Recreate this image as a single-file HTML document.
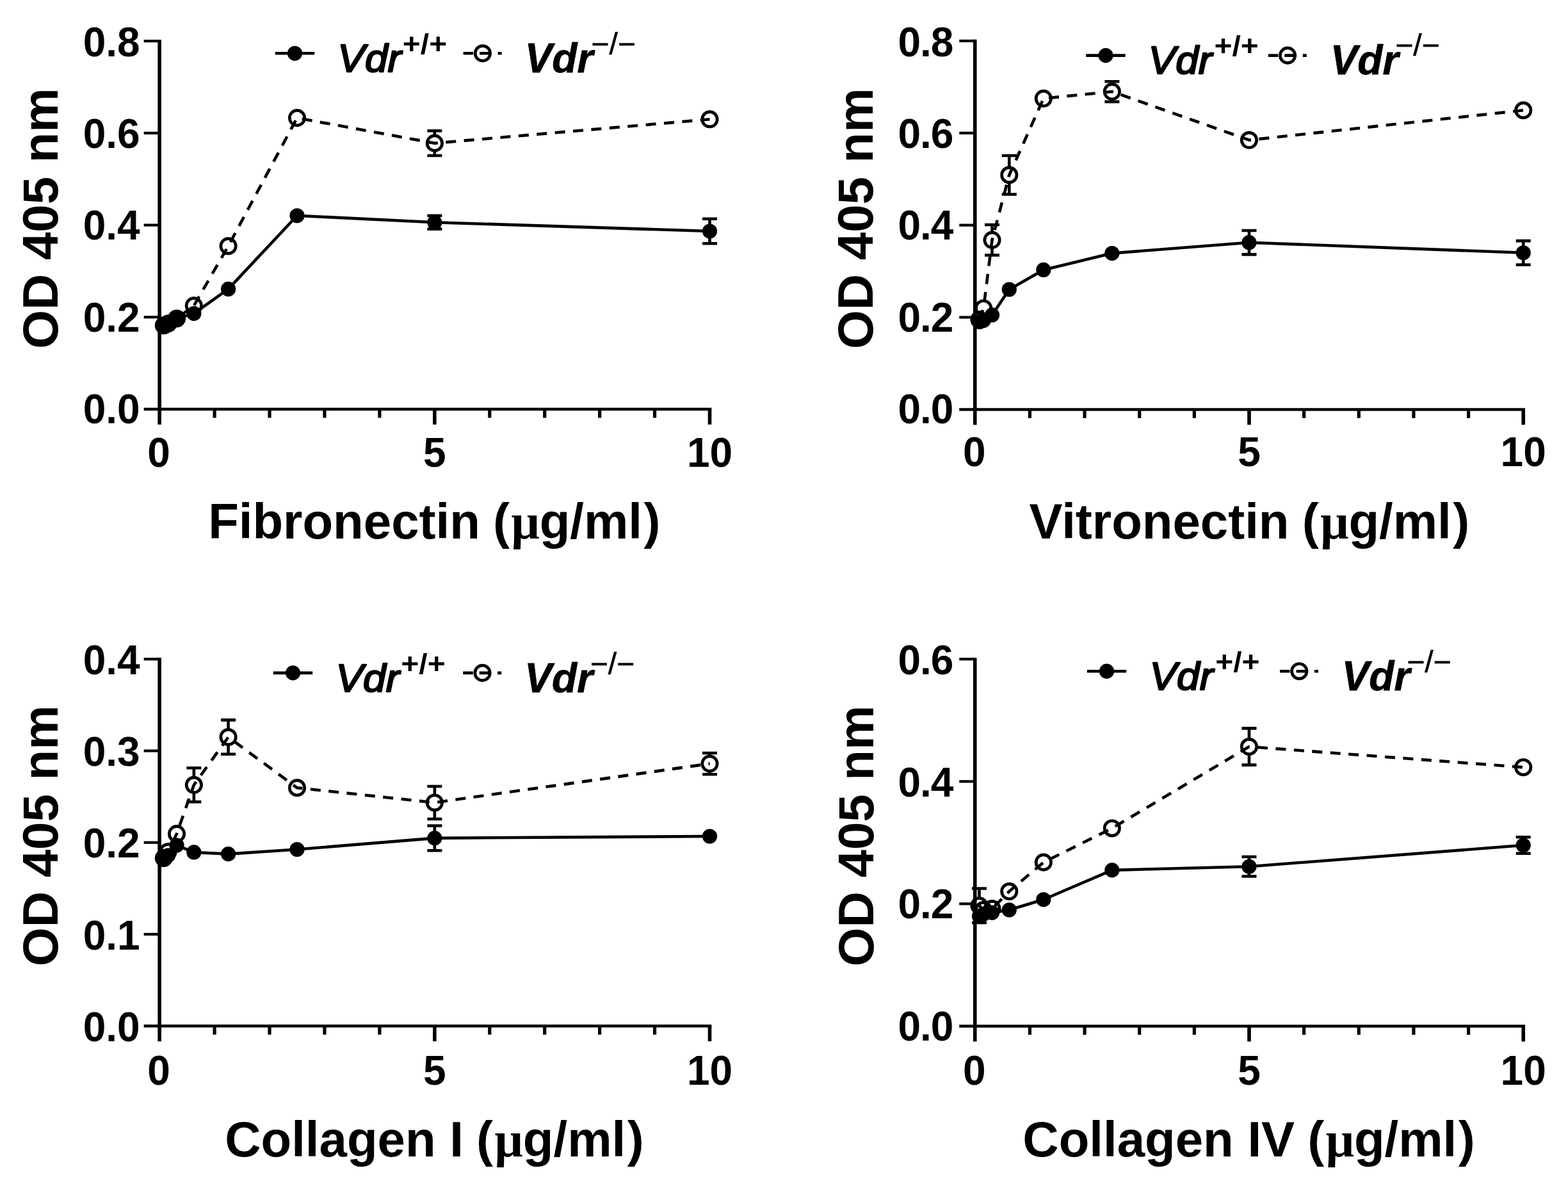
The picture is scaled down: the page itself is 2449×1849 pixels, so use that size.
<!DOCTYPE html>
<html lang="en">
<head>
<meta charset="utf-8">
<title>Cell adhesion to ECM proteins: Vdr+/+ vs Vdr-/-</title>
<style>
html,body{margin:0;padding:0;background:#fff;}
body{width:2449px;height:1849px;overflow:hidden;}
svg{display:block;}
text{font-family:"Liberation Sans",Arial,Helvetica,sans-serif;fill:#000;}
.tk text{font-size:64px;font-weight:bold;}
.tt{font-size:78px;font-weight:bold;}
.mu{font-family:"Liberation Serif","DejaVu Serif",serif;font-weight:bold;font-style:normal;}
.l1{font-size:64px;font-style:italic;font-weight:normal;stroke:#000;stroke-width:2.4px;stroke-linejoin:round;}
.l2{font-size:64px;font-style:italic;font-weight:bold;stroke:#000;stroke-width:0.8px;stroke-linejoin:round;}
.s1{font-size:48px;font-weight:bold;}
.s2{font-size:48px;font-weight:normal;stroke:#000;stroke-width:0.6px;}
</style>
</head>
<body>
<svg xmlns="http://www.w3.org/2000/svg" width="2449" height="1849" viewBox="0 0 2449 1849">
<rect x="0" y="0" width="2449" height="1849" fill="#fff"/>
<g class="p1">
<g stroke="#000" fill="none" stroke-linecap="butt">
<line x1="249.15" y1="62" x2="249.15" y2="663" stroke-width="5.6"/>
<line x1="224.65" y1="639" x2="1111.3" y2="639" stroke-width="4.5"/>
<line x1="224.65" y1="495.27" x2="249.15" y2="495.27" stroke-width="4.2"/>
<line x1="224.65" y1="351.55" x2="249.15" y2="351.55" stroke-width="4.2"/>
<line x1="224.65" y1="207.82" x2="249.15" y2="207.82" stroke-width="4.2"/>
<line x1="224.65" y1="64.1" x2="249.15" y2="64.1" stroke-width="4.2"/>
<line x1="335.09" y1="639" x2="335.09" y2="652.5" stroke-width="5.2"/>
<line x1="421.02" y1="639" x2="421.02" y2="652.5" stroke-width="5.2"/>
<line x1="506.96" y1="639" x2="506.96" y2="652.5" stroke-width="5.2"/>
<line x1="592.89" y1="639" x2="592.89" y2="652.5" stroke-width="5.2"/>
<line x1="678.83" y1="639" x2="678.83" y2="663" stroke-width="5.6"/>
<line x1="764.76" y1="639" x2="764.76" y2="652.5" stroke-width="5.2"/>
<line x1="850.7" y1="639" x2="850.7" y2="652.5" stroke-width="5.2"/>
<line x1="936.63" y1="639" x2="936.63" y2="652.5" stroke-width="5.2"/>
<line x1="1022.56" y1="639" x2="1022.56" y2="652.5" stroke-width="5.2"/>
<line x1="1108.5" y1="639" x2="1108.5" y2="663" stroke-width="5.6"/>
</g>
<g class="tk">
<text x="218.65" y="660.7" text-anchor="end">0.0</text>
<text x="218.65" y="517.51" text-anchor="end">0.2</text>
<text x="218.65" y="374.33" text-anchor="end">0.4</text>
<text x="218.65" y="231.14" text-anchor="end">0.6</text>
<text x="218.65" y="87.95" text-anchor="end">0.8</text>
<text x="248.15" y="728.7" text-anchor="middle">0</text>
<text x="678.83" y="728.7" text-anchor="middle">5</text>
<text x="1108.5" y="728.7" text-anchor="middle">10</text>
</g>
<text class="tt" x="678.33" y="840.8" text-anchor="middle">Fibronectin <tspan dx="-1.5">(</tspan><tspan class="mu" dx="2.5">μ</tspan><tspan dx="0">g/ml</tspan><tspan dx="2.5">)</tspan></text>
<text class="tt" transform="translate(90.45 341.05) rotate(-90)" text-anchor="middle">OD 405 nm</text>
<g class="lg">
<line x1="429.8" y1="83.3" x2="491.2" y2="83.3" stroke="#000" stroke-width="4.6"/>
<circle cx="460.5" cy="83.3" r="11.6" fill="#000"/>
<text class="l1" transform="translate(527.3 112.3) scale(1 0.955)">Vdr</text>
<text class="s1" transform="translate(628.85 84.4) scale(1 0.92)">+/+</text>
<line x1="723.6" y1="83.3" x2="784.2" y2="83.3" stroke="#000" stroke-width="4.6" stroke-dasharray="15.5 10 15.5 13 6 99"/>
<circle cx="753.9" cy="83.3" r="11.7" fill="none" stroke="#000" stroke-width="4.7"/>
<text class="l2" x="819.65" y="113.2">Vdr</text>
<text class="s2" x="923.35" y="85">−/−</text>
</g>
<path d="M255.86 508.21 L262.58 505.34 L276 497.43 L302.86 477.31 L356.57 384.25 L463.99 184.11 L678.83 223.63 L1108.5 186.27" fill="none" stroke="#000" stroke-width="4.6" stroke-dasharray="16 12.5" stroke-dashoffset="0"/>
<path d="M667.33 204.23 H690.33 M667.33 243.04 H690.33 M678.83 204.23 V210.58 M678.83 236.68 V243.04" fill="none" stroke="#000" stroke-width="4.6"/>
<circle cx="255.86" cy="508.21" r="11.7" fill="none" stroke="#000" stroke-width="4.7"/>
<circle cx="262.58" cy="505.34" r="11.7" fill="none" stroke="#000" stroke-width="4.7"/>
<circle cx="276" cy="497.43" r="11.7" fill="none" stroke="#000" stroke-width="4.7"/>
<circle cx="302.86" cy="477.31" r="11.7" fill="none" stroke="#000" stroke-width="4.7"/>
<circle cx="356.57" cy="384.25" r="11.7" fill="none" stroke="#000" stroke-width="4.7"/>
<circle cx="463.99" cy="184.11" r="11.7" fill="none" stroke="#000" stroke-width="4.7"/>
<circle cx="678.83" cy="223.63" r="11.7" fill="none" stroke="#000" stroke-width="4.7"/>
<circle cx="1108.5" cy="186.27" r="11.7" fill="none" stroke="#000" stroke-width="4.7"/>
<path d="M255.86 508.21 L262.58 505.34 L276 497.43 L302.86 489.53 L356.57 451.44 L463.99 336.75 L678.83 347.24 L1108.5 361.04" fill="none" stroke="#000" stroke-width="4.6" stroke-linejoin="round"/>
<path d="M667.33 336.82 H690.33 M667.33 357.66 H690.33" fill="none" stroke="#000" stroke-width="4.6"/>
<path d="M1097 341.78 H1120 M1097 380.3 H1120 M1108.5 341.78 V350.44 M1108.5 371.64 V380.3" fill="none" stroke="#000" stroke-width="4.6"/>
<circle cx="255.86" cy="508.21" r="11.6" fill="#000"/>
<circle cx="262.58" cy="505.34" r="11.6" fill="#000"/>
<circle cx="276" cy="497.43" r="11.6" fill="#000"/>
<circle cx="302.86" cy="489.53" r="11.6" fill="#000"/>
<circle cx="356.57" cy="451.44" r="11.6" fill="#000"/>
<circle cx="463.99" cy="336.75" r="11.6" fill="#000"/>
<circle cx="678.83" cy="347.24" r="11.6" fill="#000"/>
<circle cx="1108.5" cy="361.04" r="11.6" fill="#000"/>
</g>
<g class="p2">
<g stroke="#000" fill="none" stroke-linecap="butt">
<line x1="1522.75" y1="61.8" x2="1522.75" y2="663.4" stroke-width="5.6"/>
<line x1="1498.25" y1="639.4" x2="2382" y2="639.4" stroke-width="4.5"/>
<line x1="1498.25" y1="495.52" x2="1522.75" y2="495.52" stroke-width="4.2"/>
<line x1="1498.25" y1="351.65" x2="1522.75" y2="351.65" stroke-width="4.2"/>
<line x1="1498.25" y1="207.77" x2="1522.75" y2="207.77" stroke-width="4.2"/>
<line x1="1498.25" y1="63.9" x2="1522.75" y2="63.9" stroke-width="4.2"/>
<line x1="1608.39" y1="639.4" x2="1608.39" y2="652.9" stroke-width="5.2"/>
<line x1="1694.04" y1="639.4" x2="1694.04" y2="652.9" stroke-width="5.2"/>
<line x1="1779.68" y1="639.4" x2="1779.68" y2="652.9" stroke-width="5.2"/>
<line x1="1865.33" y1="639.4" x2="1865.33" y2="652.9" stroke-width="5.2"/>
<line x1="1950.97" y1="639.4" x2="1950.97" y2="663.4" stroke-width="5.6"/>
<line x1="2036.62" y1="639.4" x2="2036.62" y2="652.9" stroke-width="5.2"/>
<line x1="2122.26" y1="639.4" x2="2122.26" y2="652.9" stroke-width="5.2"/>
<line x1="2207.91" y1="639.4" x2="2207.91" y2="652.9" stroke-width="5.2"/>
<line x1="2293.55" y1="639.4" x2="2293.55" y2="652.9" stroke-width="5.2"/>
<line x1="2379.2" y1="639.4" x2="2379.2" y2="663.4" stroke-width="5.6"/>
</g>
<g class="tk">
<text x="1488.25" y="660.95" text-anchor="end" letter-spacing="-1.1">0.0</text>
<text x="1488.25" y="517.7" text-anchor="end" letter-spacing="-1.1">0.2</text>
<text x="1488.25" y="374.45" text-anchor="end" letter-spacing="-1.1">0.4</text>
<text x="1488.25" y="231.2" text-anchor="end" letter-spacing="-1.1">0.6</text>
<text x="1488.25" y="87.95" text-anchor="end" letter-spacing="-1.1">0.8</text>
<text x="1521.75" y="728.4" text-anchor="middle">0</text>
<text x="1950.97" y="728.4" text-anchor="middle">5</text>
<text x="2379.2" y="728.4" text-anchor="middle">10</text>
</g>
<text class="tt" x="1951.38" y="840.9" text-anchor="middle">Vitronectin <tspan dx="-1.5">(</tspan><tspan class="mu" dx="2.5">μ</tspan><tspan dx="0">g/ml</tspan><tspan dx="2.5">)</tspan></text>
<text class="tt" transform="translate(1362.65 341.15) rotate(-90)" text-anchor="middle">OD 405 nm</text>
<g class="lg">
<line x1="1696.3" y1="86.6" x2="1757.7" y2="86.6" stroke="#000" stroke-width="4.6"/>
<circle cx="1727" cy="86.6" r="11.6" fill="#000"/>
<text class="l1" transform="translate(1793.5 114.6) scale(1 0.955)">Vdr</text>
<text class="s1" transform="translate(1896.45 86.7) scale(1 0.92)">+/+</text>
<line x1="1980.75" y1="86.6" x2="2041.35" y2="86.6" stroke="#000" stroke-width="4.6" stroke-dasharray="15.5 10 15.5 13 6 99"/>
<circle cx="2011.05" cy="86.6" r="11.7" fill="none" stroke="#000" stroke-width="4.7"/>
<text class="l2" x="2077.65" y="115.5">Vdr</text>
<text class="s2" x="2179.15" y="87.3">−/−</text>
</g>
<path d="M1529.44 499.12 L1536.13 481.43 L1549.51 374.81 L1576.28 273.24 L1629.81 153.82 L1736.86 143.03 L1950.97 218.78 L2379.2 172.24" fill="none" stroke="#000" stroke-width="4.6" stroke-dasharray="16 12.5" stroke-dashoffset="0"/>
<path d="M1538.01 351.07 H1561.01 M1538.01 398.55 H1561.01 M1549.51 351.07 V361.76 M1549.51 387.86 V398.55" fill="none" stroke="#000" stroke-width="4.6"/>
<path d="M1564.78 243.02 H1587.78 M1564.78 303.45 H1587.78 M1576.28 243.02 V260.19 M1576.28 286.29 V303.45" fill="none" stroke="#000" stroke-width="4.6"/>
<path d="M1725.36 127.2 H1748.36 M1725.36 158.86 H1748.36 M1736.86 127.2 V129.98 M1736.86 156.08 V158.86" fill="none" stroke="#000" stroke-width="4.6"/>
<circle cx="1529.44" cy="499.12" r="11.7" fill="none" stroke="#000" stroke-width="4.7"/>
<circle cx="1536.13" cy="481.43" r="11.7" fill="none" stroke="#000" stroke-width="4.7"/>
<circle cx="1549.51" cy="374.81" r="11.7" fill="none" stroke="#000" stroke-width="4.7"/>
<circle cx="1576.28" cy="273.24" r="11.7" fill="none" stroke="#000" stroke-width="4.7"/>
<circle cx="1629.81" cy="153.82" r="11.7" fill="none" stroke="#000" stroke-width="4.7"/>
<circle cx="1736.86" cy="143.03" r="11.7" fill="none" stroke="#000" stroke-width="4.7"/>
<circle cx="1950.97" cy="218.78" r="11.7" fill="none" stroke="#000" stroke-width="4.7"/>
<circle cx="2379.2" cy="172.24" r="11.7" fill="none" stroke="#000" stroke-width="4.7"/>
<path d="M1529.44 502.72 L1536.13 500.56 L1549.51 491.93 L1576.28 452 L1629.81 421.43 L1736.86 395.53 L1950.97 378.7 L2379.2 394.81" fill="none" stroke="#000" stroke-width="4.6" stroke-linejoin="round"/>
<path d="M1939.47 359.99 H1962.47 M1939.47 397.4 H1962.47 M1950.97 359.99 V368.1 M1950.97 389.3 V397.4" fill="none" stroke="#000" stroke-width="4.6"/>
<path d="M2367.7 376.11 H2390.7 M2367.7 413.52 H2390.7 M2379.2 376.11 V384.21 M2379.2 405.41 V413.52" fill="none" stroke="#000" stroke-width="4.6"/>
<circle cx="1529.44" cy="502.72" r="11.6" fill="#000"/>
<circle cx="1536.13" cy="500.56" r="11.6" fill="#000"/>
<circle cx="1549.51" cy="491.93" r="11.6" fill="#000"/>
<circle cx="1576.28" cy="452" r="11.6" fill="#000"/>
<circle cx="1629.81" cy="421.43" r="11.6" fill="#000"/>
<circle cx="1736.86" cy="395.53" r="11.6" fill="#000"/>
<circle cx="1950.97" cy="378.7" r="11.6" fill="#000"/>
<circle cx="2379.2" cy="394.81" r="11.6" fill="#000"/>
</g>
<g class="p3">
<g stroke="#000" fill="none" stroke-linecap="butt">
<line x1="249.15" y1="1027.2" x2="249.15" y2="1626.2" stroke-width="5.6"/>
<line x1="224.65" y1="1602.2" x2="1111.3" y2="1602.2" stroke-width="4.5"/>
<line x1="224.65" y1="1458.97" x2="249.15" y2="1458.97" stroke-width="4.2"/>
<line x1="224.65" y1="1315.75" x2="249.15" y2="1315.75" stroke-width="4.2"/>
<line x1="224.65" y1="1172.52" x2="249.15" y2="1172.52" stroke-width="4.2"/>
<line x1="224.65" y1="1029.3" x2="249.15" y2="1029.3" stroke-width="4.2"/>
<line x1="335.09" y1="1602.2" x2="335.09" y2="1615.7" stroke-width="5.2"/>
<line x1="421.02" y1="1602.2" x2="421.02" y2="1615.7" stroke-width="5.2"/>
<line x1="506.96" y1="1602.2" x2="506.96" y2="1615.7" stroke-width="5.2"/>
<line x1="592.89" y1="1602.2" x2="592.89" y2="1615.7" stroke-width="5.2"/>
<line x1="678.83" y1="1602.2" x2="678.83" y2="1626.2" stroke-width="5.6"/>
<line x1="764.76" y1="1602.2" x2="764.76" y2="1615.7" stroke-width="5.2"/>
<line x1="850.7" y1="1602.2" x2="850.7" y2="1615.7" stroke-width="5.2"/>
<line x1="936.63" y1="1602.2" x2="936.63" y2="1615.7" stroke-width="5.2"/>
<line x1="1022.56" y1="1602.2" x2="1022.56" y2="1615.7" stroke-width="5.2"/>
<line x1="1108.5" y1="1602.2" x2="1108.5" y2="1626.2" stroke-width="5.6"/>
</g>
<g class="tk">
<text x="218.65" y="1625.8" text-anchor="end">0.0</text>
<text x="218.65" y="1482.51" text-anchor="end">0.1</text>
<text x="218.65" y="1339.22" text-anchor="end">0.2</text>
<text x="218.65" y="1195.94" text-anchor="end">0.3</text>
<text x="218.65" y="1052.65" text-anchor="end">0.4</text>
<text x="248.15" y="1693.7" text-anchor="middle">0</text>
<text x="678.83" y="1693.7" text-anchor="middle">5</text>
<text x="1108.5" y="1693.7" text-anchor="middle">10</text>
</g>
<text class="tt" x="678.43" y="1805.5" text-anchor="middle">Collagen I <tspan dx="-1.5">(</tspan><tspan class="mu" dx="2.5">μ</tspan><tspan dx="0">g/ml</tspan><tspan dx="2.5">)</tspan></text>
<text class="tt" transform="translate(90.45 1305.25) rotate(-90)" text-anchor="middle">OD 405 nm</text>
<g class="lg">
<line x1="426.8" y1="1050.9" x2="488.2" y2="1050.9" stroke="#000" stroke-width="4.6"/>
<circle cx="457.5" cy="1050.9" r="11.6" fill="#000"/>
<text class="l1" transform="translate(524.4 1080) scale(1 0.955)">Vdr</text>
<text class="s1" transform="translate(626.35 1052.1) scale(1 0.92)">+/+</text>
<line x1="723.2" y1="1050.9" x2="783.8" y2="1050.9" stroke="#000" stroke-width="4.6" stroke-dasharray="15.5 10 15.5 13 6 99"/>
<circle cx="753.5" cy="1050.9" r="11.7" fill="none" stroke="#000" stroke-width="4.7"/>
<text class="l2" x="819.35" y="1080.9">Vdr</text>
<text class="s2" x="921.75" y="1052.7">−/−</text>
</g>
<path d="M255.86 1340.1 L262.58 1330.07 L276 1302.14 L302.86 1225.8 L356.57 1151.04 L463.99 1230.24 L678.83 1253.45 L1108.5 1192.58" fill="none" stroke="#000" stroke-width="4.6" stroke-dasharray="16 12.5" stroke-dashoffset="0"/>
<path d="M291.36 1199.31 H314.36 M291.36 1252.3 H314.36 M302.86 1199.31 V1212.75 M302.86 1238.85 V1252.3" fill="none" stroke="#000" stroke-width="4.6"/>
<path d="M345.07 1124.4 H368.07 M345.07 1177.68 H368.07 M356.57 1124.4 V1137.99 M356.57 1164.09 V1177.68" fill="none" stroke="#000" stroke-width="4.6"/>
<path d="M667.33 1227.95 H690.33 M667.33 1278.94 H690.33 M678.83 1227.95 V1240.4 M678.83 1266.5 V1278.94" fill="none" stroke="#000" stroke-width="4.6"/>
<path d="M1097 1175.96 H1120 M1097 1209.19 H1120 M1108.5 1175.96 V1179.53 M1108.5 1205.63 V1209.19" fill="none" stroke="#000" stroke-width="4.6"/>
<circle cx="255.86" cy="1340.1" r="11.7" fill="none" stroke="#000" stroke-width="4.7"/>
<circle cx="262.58" cy="1330.07" r="11.7" fill="none" stroke="#000" stroke-width="4.7"/>
<circle cx="276" cy="1302.14" r="11.7" fill="none" stroke="#000" stroke-width="4.7"/>
<circle cx="302.86" cy="1225.8" r="11.7" fill="none" stroke="#000" stroke-width="4.7"/>
<circle cx="356.57" cy="1151.04" r="11.7" fill="none" stroke="#000" stroke-width="4.7"/>
<circle cx="463.99" cy="1230.24" r="11.7" fill="none" stroke="#000" stroke-width="4.7"/>
<circle cx="678.83" cy="1253.45" r="11.7" fill="none" stroke="#000" stroke-width="4.7"/>
<circle cx="1108.5" cy="1192.58" r="11.7" fill="none" stroke="#000" stroke-width="4.7"/>
<path d="M255.86 1341.96 L262.58 1335.8 L276 1320.05 L302.86 1330.93 L356.57 1333.65 L463.99 1326.49 L678.83 1308.88 L1108.5 1306.01" fill="none" stroke="#000" stroke-width="4.6" stroke-linejoin="round"/>
<path d="M667.33 1289.54 H690.33 M667.33 1328.21 H690.33 M678.83 1289.54 V1298.28 M678.83 1319.48 V1328.21" fill="none" stroke="#000" stroke-width="4.6"/>
<circle cx="255.86" cy="1341.96" r="11.6" fill="#000"/>
<circle cx="262.58" cy="1335.8" r="11.6" fill="#000"/>
<circle cx="276" cy="1320.05" r="11.6" fill="#000"/>
<circle cx="302.86" cy="1330.93" r="11.6" fill="#000"/>
<circle cx="356.57" cy="1333.65" r="11.6" fill="#000"/>
<circle cx="463.99" cy="1326.49" r="11.6" fill="#000"/>
<circle cx="678.83" cy="1308.88" r="11.6" fill="#000"/>
<circle cx="1108.5" cy="1306.01" r="11.6" fill="#000"/>
</g>
<g class="p4">
<g stroke="#000" fill="none" stroke-linecap="butt">
<line x1="1522.75" y1="1027.2" x2="1522.75" y2="1626.5" stroke-width="5.6"/>
<line x1="1498.25" y1="1602.5" x2="2382" y2="1602.5" stroke-width="4.5"/>
<line x1="1498.25" y1="1411.43" x2="1522.75" y2="1411.43" stroke-width="4.2"/>
<line x1="1498.25" y1="1220.37" x2="1522.75" y2="1220.37" stroke-width="4.2"/>
<line x1="1498.25" y1="1029.3" x2="1522.75" y2="1029.3" stroke-width="4.2"/>
<line x1="1608.39" y1="1602.5" x2="1608.39" y2="1616" stroke-width="5.2"/>
<line x1="1694.04" y1="1602.5" x2="1694.04" y2="1616" stroke-width="5.2"/>
<line x1="1779.68" y1="1602.5" x2="1779.68" y2="1616" stroke-width="5.2"/>
<line x1="1865.33" y1="1602.5" x2="1865.33" y2="1616" stroke-width="5.2"/>
<line x1="1950.97" y1="1602.5" x2="1950.97" y2="1626.5" stroke-width="5.6"/>
<line x1="2036.62" y1="1602.5" x2="2036.62" y2="1616" stroke-width="5.2"/>
<line x1="2122.26" y1="1602.5" x2="2122.26" y2="1616" stroke-width="5.2"/>
<line x1="2207.91" y1="1602.5" x2="2207.91" y2="1616" stroke-width="5.2"/>
<line x1="2293.55" y1="1602.5" x2="2293.55" y2="1616" stroke-width="5.2"/>
<line x1="2379.2" y1="1602.5" x2="2379.2" y2="1626.5" stroke-width="5.6"/>
</g>
<g class="tk">
<text x="1488.25" y="1625.2" text-anchor="end" letter-spacing="-1.1">0.0</text>
<text x="1488.25" y="1434.43" text-anchor="end" letter-spacing="-1.1">0.2</text>
<text x="1488.25" y="1243.67" text-anchor="end" letter-spacing="-1.1">0.4</text>
<text x="1488.25" y="1052.9" text-anchor="end" letter-spacing="-1.1">0.6</text>
<text x="1521.75" y="1693.7" text-anchor="middle">0</text>
<text x="1950.97" y="1693.7" text-anchor="middle">5</text>
<text x="2379.2" y="1693.7" text-anchor="middle">10</text>
</g>
<text class="tt" x="1950.57" y="1805.5" text-anchor="middle">Collagen IV <tspan dx="-1.5">(</tspan><tspan class="mu" dx="2.5">μ</tspan><tspan dx="0">g/ml</tspan><tspan dx="2.5">)</tspan></text>
<text class="tt" transform="translate(1364.05 1305.4) rotate(-90)" text-anchor="middle">OD 405 nm</text>
<g class="lg">
<line x1="1697.8" y1="1048.2" x2="1759.2" y2="1048.2" stroke="#000" stroke-width="4.6"/>
<circle cx="1728.5" cy="1048.2" r="11.6" fill="#000"/>
<text class="l1" transform="translate(1795.4 1077.2) scale(1 0.955)">Vdr</text>
<text class="s1" transform="translate(1898.25 1049.3) scale(1 0.92)">+/+</text>
<line x1="1999" y1="1048.2" x2="2059.6" y2="1048.2" stroke="#000" stroke-width="4.6" stroke-dasharray="15.5 10 15.5 13 6 99"/>
<circle cx="2029.3" cy="1048.2" r="11.7" fill="none" stroke="#000" stroke-width="4.7"/>
<text class="l2" x="2095.65" y="1078.1">Vdr</text>
<text class="s2" x="2197.25" y="1049.9">−/−</text>
</g>
<path d="M1529.44 1414.3 L1536.13 1420.99 L1549.51 1419.08 L1576.28 1392.04 L1629.81 1346.66 L1736.86 1293.45 L1950.97 1166.01 L2379.2 1198.2" fill="none" stroke="#000" stroke-width="4.6" stroke-dasharray="16 12.5" stroke-dashoffset="0"/>
<path d="M1517.94 1387.55 H1540.94 M1517.94 1441.05 H1540.94 M1529.44 1387.55 V1401.25 M1529.44 1427.35 V1441.05" fill="none" stroke="#000" stroke-width="4.6"/>
<path d="M1939.47 1137.35 H1962.47 M1939.47 1194.67 H1962.47 M1950.97 1137.35 V1152.96 M1950.97 1179.06 V1194.67" fill="none" stroke="#000" stroke-width="4.6"/>
<circle cx="1529.44" cy="1414.3" r="11.7" fill="none" stroke="#000" stroke-width="4.7"/>
<circle cx="1536.13" cy="1420.99" r="11.7" fill="none" stroke="#000" stroke-width="4.7"/>
<circle cx="1549.51" cy="1419.08" r="11.7" fill="none" stroke="#000" stroke-width="4.7"/>
<circle cx="1576.28" cy="1392.04" r="11.7" fill="none" stroke="#000" stroke-width="4.7"/>
<circle cx="1629.81" cy="1346.66" r="11.7" fill="none" stroke="#000" stroke-width="4.7"/>
<circle cx="1736.86" cy="1293.45" r="11.7" fill="none" stroke="#000" stroke-width="4.7"/>
<circle cx="1950.97" cy="1166.01" r="11.7" fill="none" stroke="#000" stroke-width="4.7"/>
<circle cx="2379.2" cy="1198.2" r="11.7" fill="none" stroke="#000" stroke-width="4.7"/>
<path d="M1529.44 1430.83 L1536.13 1427.67 L1549.51 1425.29 L1576.28 1420.99 L1629.81 1404.75 L1736.86 1358.89 L1950.97 1353.25 L2379.2 1320.01" fill="none" stroke="#000" stroke-width="4.6" stroke-linejoin="round"/>
<path d="M1939.47 1337.97 H1962.47 M1939.47 1368.54 H1962.47 M1950.97 1337.97 V1342.65 M1950.97 1363.85 V1368.54" fill="none" stroke="#000" stroke-width="4.6"/>
<path d="M2367.7 1307.3 H2390.7 M2367.7 1332.71 H2390.7 M2379.2 1307.3 V1309.41 M2379.2 1330.61 V1332.71" fill="none" stroke="#000" stroke-width="4.6"/>
<circle cx="1529.44" cy="1430.83" r="11.6" fill="#000"/>
<circle cx="1536.13" cy="1427.67" r="11.6" fill="#000"/>
<circle cx="1549.51" cy="1425.29" r="11.6" fill="#000"/>
<circle cx="1576.28" cy="1420.99" r="11.6" fill="#000"/>
<circle cx="1629.81" cy="1404.75" r="11.6" fill="#000"/>
<circle cx="1736.86" cy="1358.89" r="11.6" fill="#000"/>
<circle cx="1950.97" cy="1353.25" r="11.6" fill="#000"/>
<circle cx="2379.2" cy="1320.01" r="11.6" fill="#000"/>
</g>
</svg>
</body>
</html>
